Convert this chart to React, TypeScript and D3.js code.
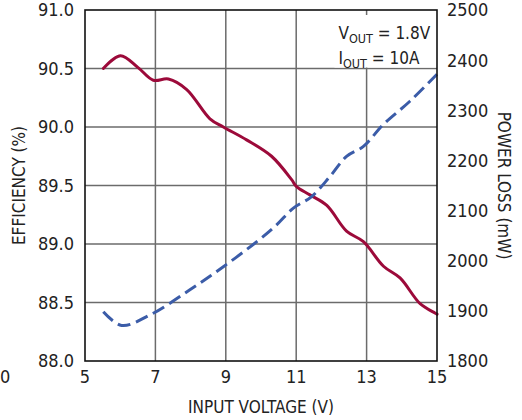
import * as d3 from "d3";

// efficiency and power loss vs input voltage, VOUT = 1.8V, IOUT = 10A

const W = 522;
const H = 420;
const MARGIN = { top: 10, right: 85, bottom: 59, left: 85 };

const FONT = "'Liberation Sans Narrow', 'DejaVu Sans Condensed', sans-serif";
const RED = "#9c0a3a";
const BLUE = "#3b5ca8";
const GRID = "#6b6b6b";

const xTicks = [5, 7, 9, 11, 13, 15];
const effTicks = [88.0, 88.5, 89.0, 89.5, 90.0, 90.5, 91.0];
const lossTicks = [1800, 1900, 2000, 2100, 2200, 2300, 2400, 2500];

// efficiency (%)
const effVin = [5.52, 6.01, 6.5, 6.94, 7.37, 7.89, 8.55, 8.93, 9.59, 10.3, 10.87, 11.01, 11.39, 11.87, 12.43, 12.91, 13.48, 13.95, 14.52, 14.94, 15.0];
const effValues = [90.5, 90.61, 90.51, 90.4, 90.41, 90.32, 90.07, 90.0, 89.89, 89.75, 89.55, 89.49, 89.42, 89.33, 89.11, 89.02, 88.81, 88.71, 88.49, 88.41, 88.4];

// power loss (mW)
const lossVin = [5.52, 6.04, 6.85, 7.98, 8.93, 9.88, 10.45, 10.92, 11.44, 11.96, 12.43, 12.91, 13.48, 14.23, 15.0];
const lossValues = [1898, 1871, 1892, 1942, 1988, 2038, 2072, 2105, 2128, 2168, 2208, 2228, 2272, 2318, 2372];

const App = () => {
  const boundsW = W - MARGIN.left - MARGIN.right;
  const boundsH = H - MARGIN.top - MARGIN.bottom;

  const x = d3.scaleLinear().domain([5, 15]).range([0, boundsW]);
  const yEff = d3.scaleLinear().domain([88, 91]).range([boundsH, 0]);
  const yLoss = d3.scaleLinear().domain([1800, 2500]).range([boundsH, 0]);

  const effLine = d3
    .line<number>()
    .x((_, i) => x(effVin[i]))
    .y((d) => yEff(d))
    .curve(d3.curveCatmullRom.alpha(0.5));

  const lossLine = d3
    .line<number>()
    .x((_, i) => x(lossVin[i]))
    .y((d) => yLoss(d))
    .curve(d3.curveCatmullRom.alpha(0.5));

  const labelX = x(12.2);

  return (
    <div style={{ position: "absolute", left: 0, top: 0 }}>
      <svg width={W} height={H} style={{ display: "block", background: "#fff" }} fontFamily={FONT}>
        <g transform={`translate(${MARGIN.left},${MARGIN.top})`}>
          {/* grid */}
          {xTicks.slice(1, -1).map((t) => (
            <line key={"gx" + t} x1={x(t)} x2={x(t)} y1={0} y2={boundsH} stroke={GRID} strokeWidth={1.5} />
          ))}
          {effTicks.slice(1, -1).map((t) => (
            <line key={"gy" + t} x1={0} x2={boundsW} y1={yEff(t)} y2={yEff(t)} stroke={GRID} strokeWidth={1.5} />
          ))}

          {/* label box hides the grid under it */}
          <rect x={labelX - 4} y={5} width={boundsW - labelX + 3} height={yEff(90.5) - 6} fill="#fff" />
          <text x={labelX} y={29} fontSize={17} fill="#222">
            V<tspan fontSize={12.5} dy={4}>OUT</tspan>
            <tspan dy={-4}> = 1.8V</tspan>
          </text>
          <text x={labelX} y={54} fontSize={17} fill="#222">
            I<tspan fontSize={12.5} dy={4}>OUT</tspan>
            <tspan dy={-4}> = 10A</tspan>
          </text>

          {/* series */}
          <path d={effLine(effValues) ?? ""} fill="none" stroke={RED} strokeWidth={3} strokeLinecap="round" />
          <path
            d={lossLine(lossValues) ?? ""}
            fill="none"
            stroke={BLUE}
            strokeWidth={3}
            strokeDasharray="13 6"
          />

          {/* frame */}
          <rect x={0} y={0} width={boundsW} height={boundsH} fill="none" stroke="#111" strokeWidth={1.6} />

          {/* left axis */}
          {effTicks.map((t) => (
            <text key={"le" + t} x={-11} y={yEff(t)} dy="0.36em" textAnchor="end" fontSize={18} fill="#222">
              {t.toFixed(1)}
            </text>
          ))}
          {/* right axis */}
          {lossTicks.map((t) => (
            <text key={"rl" + t} x={boundsW + 10} y={yLoss(t)} dy="0.36em" textAnchor="start" fontSize={18} fill="#222">
              {t}
            </text>
          ))}
          {/* bottom axis */}
          {xTicks.map((t) => (
            <text key={"bx" + t} x={x(t)} y={boundsH + 22} textAnchor="middle" fontSize={18} fill="#222">
              {t}
            </text>
          ))}

          <text x={boundsW / 2} y={boundsH + 52} textAnchor="middle" fontSize={17} fill="#222">
            INPUT VOLTAGE (V)
          </text>
          <text
            transform={`translate(${-60},${boundsH / 2}) rotate(-90)`}
            textAnchor="middle"
            fontSize={17}
            fill="#222"
          >
            EFFICIENCY (%)
          </text>
          <text
            transform={`translate(${boundsW + 61},${boundsH / 2}) rotate(90)`}
            textAnchor="middle"
            fontSize={17}
            fill="#222"
          >
            POWER LOSS (mW)
          </text>
        </g>
        {/* label of a neighbouring chart, only its last digit shows */}
        <text x={0} y={MARGIN.top + boundsH + 22} fontSize={18} fill="#222">
          0
        </text>
      </svg>
    </div>
  );
};

export default App;
